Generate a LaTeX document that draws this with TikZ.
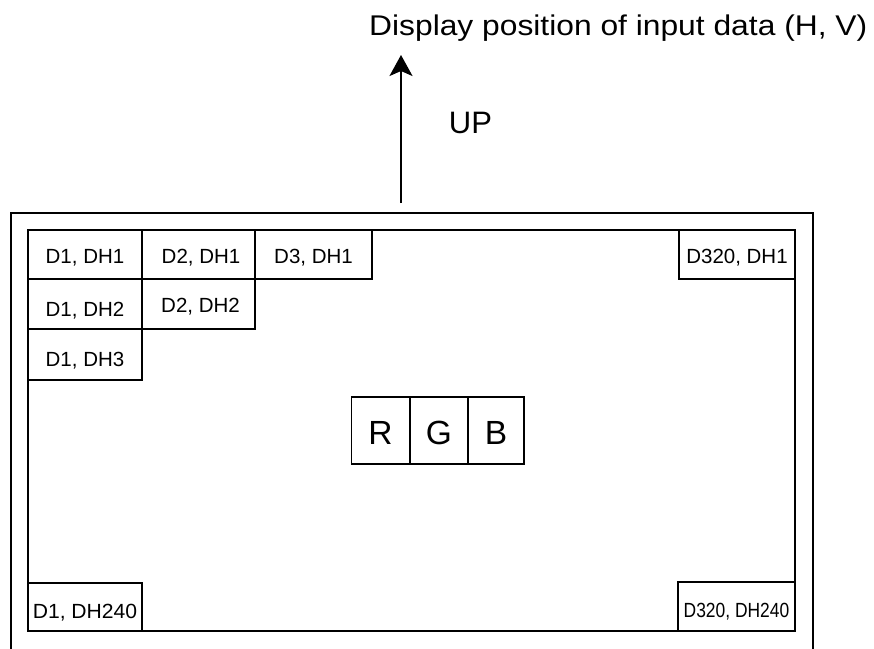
\documentclass[tikz,border=0pt]{standalone}
\usepackage{fontspec}
\setmainfont{Liberation Sans}
\usetikzlibrary{arrows,arrows.meta,positioning}

\begin{document}
\begin{tikzpicture}[x=1pt,y=-1pt]
  \useasboundingbox (0,0) rectangle (874,648);
  \tikzstyle{Cell}=[draw,line width=1.1pt,inner sep=0pt,minimum height=49pt,
    text height=17.5pt,text depth=0pt,font=\fontsize{20.5}{24}\selectfont]
  \tikzstyle{Color}=[draw,line width=1.1pt,inner sep=0pt,minimum width=58pt,
    minimum height=67pt,text height=27pt,text depth=0pt,font=\fontsize{33.5}{38}\selectfont]
  \tikzstyle{Frame}=[line width=1.1pt]

  \node[anchor=base west,inner sep=0pt,font=\fontsize{28.5}{32}\selectfont] (title) at (369,35)
    {\scalebox{1.115}[1]{Display position of input data (H, V)}};
  \node[font=\fontsize{31}{36}\selectfont,text height=22pt,text depth=0pt,inner sep=0pt] (up) at (470.5,122.5) {UP};
  \coordinate (tail) at (401,203);
  \coordinate (tip) at (401,55);
  \draw[line width=2pt,-{Stealth[length=21pt,width=23pt,inset=5pt]}] (tail) -- (tip);

  \draw[Frame] (11,660) -- (11,213) -- (813,213) -- (813,660);
  \draw[Frame] (28,230) rectangle (795,631);

  \node[Cell,minimum width=114pt] (d1h1) at (85,254.5) {D1, DH1};
  \node[Cell,minimum width=113pt] (d2h1) at (198.5,254.5) {\hspace{5pt}D2, DH1};
  \node[Cell,minimum width=117pt] (d3h1) at (313.5,254.5) {D3, DH1};
  \node[Cell,minimum width=116pt] (d320h1) at (737,254.5) {D320, DH1};
  \node[Cell,minimum width=114pt,minimum height=50pt,text height=24.7pt] (d1h2) at (85,304) {D1, DH2};
  \node[Cell,minimum width=113pt,minimum height=50pt] (d2h2) at (198.5,304) {\hspace{4pt}D2, DH2};
  \node[Cell,minimum width=114pt,minimum height=51pt,text height=23.7pt] (d1h3) at (85,354.5) {D1, DH3};
  \node[Cell,minimum width=114pt,minimum height=48pt,text height=22.7pt] (d1h240) at (85,607) {\scalebox{1.03}[1]{D1, DH240}};
  \node[Cell,minimum width=117pt,minimum height=49pt,text height=21.7pt] (d320h240) at (736.5,606.5) {\scalebox{0.85}[1]{D320, DH240}};

  \node[Color] (r) at (380.5,430.5) {R};
  \node[Color] (g) at (439,430.5) {G};
  \node[Color,minimum width=56pt] (b) at (496,430.5) {B};
\end{tikzpicture}
\end{document}
